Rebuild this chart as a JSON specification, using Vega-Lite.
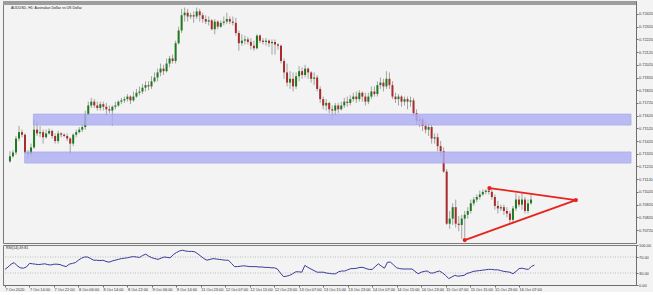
{
"$schema": "https://vega.github.io/schema/vega-lite/v6.json",
"background": "#f3f3f3",
"padding": 0,
"spacing": 2,
"bounds": "flush",
"config": {
  "view": {"stroke": "#7a7a7a", "strokeWidth": 1},
  "font": "Liberation Sans",
  "axis": {"labelFont": "Liberation Sans", "labelFontSize": 3.9, "labelColor": "#333333", "domainColor": "#6e6e6e", "tickColor": "#6e6e6e", "tickSize": 2, "grid": false, "title": null, "labelPadding": 0.5, "labelOverlap": false}
},
"datasets": {
"candles": [
{"i":0,"o":0.7126,"h":0.7134,"l":0.7125,"c":0.7130,"r":39},
{"i":1,"o":0.7130,"h":0.7135,"l":0.7129,"c":0.7133,"r":45},
{"i":2,"o":0.7133,"h":0.7146,"l":0.7131,"c":0.7144,"r":52},
{"i":3,"o":0.7144,"h":0.7154,"l":0.7142,"c":0.7149,"r":56},
{"i":4,"o":0.7149,"h":0.7151,"l":0.7145,"c":0.7147,"r":48},
{"i":5,"o":0.7147,"h":0.7148,"l":0.7132,"c":0.7133,"r":43},
{"i":6,"o":0.7133,"h":0.7135,"l":0.7128,"c":0.7132,"r":42},
{"i":7,"o":0.7132,"h":0.7140,"l":0.7130,"c":0.7137,"r":45},
{"i":8,"o":0.7137,"h":0.7159,"l":0.7136,"c":0.7151,"r":54},
{"i":9,"o":0.7151,"h":0.7158,"l":0.7146,"c":0.7148,"r":53},
{"i":10,"o":0.7148,"h":0.7154,"l":0.7145,"c":0.7149,"r":52},
{"i":11,"o":0.7149,"h":0.7151,"l":0.7140,"c":0.7145,"r":51},
{"i":12,"o":0.7145,"h":0.7151,"l":0.7144,"c":0.7148,"r":52},
{"i":13,"o":0.7148,"h":0.7152,"l":0.7147,"c":0.7150,"r":53},
{"i":14,"o":0.7150,"h":0.7151,"l":0.7144,"c":0.7146,"r":51},
{"i":15,"o":0.7146,"h":0.7148,"l":0.7140,"c":0.7142,"r":50},
{"i":16,"o":0.7142,"h":0.7150,"l":0.7140,"c":0.7148,"r":52},
{"i":17,"o":0.7148,"h":0.7149,"l":0.7145,"c":0.7147,"r":52},
{"i":18,"o":0.7147,"h":0.7148,"l":0.7145,"c":0.7146,"r":51},
{"i":19,"o":0.7146,"h":0.7148,"l":0.7142,"c":0.7144,"r":48},
{"i":20,"o":0.7144,"h":0.7145,"l":0.7131,"c":0.7140,"r":46},
{"i":21,"o":0.7140,"h":0.7148,"l":0.7138,"c":0.7147,"r":52},
{"i":22,"o":0.7147,"h":0.7151,"l":0.7145,"c":0.7149,"r":54},
{"i":23,"o":0.7149,"h":0.7153,"l":0.7148,"c":0.7151,"r":56},
{"i":24,"o":0.7151,"h":0.7155,"l":0.7149,"c":0.7153,"r":62},
{"i":25,"o":0.7153,"h":0.7166,"l":0.7151,"c":0.7163,"r":67},
{"i":26,"o":0.7163,"h":0.7173,"l":0.7162,"c":0.7170,"r":70},
{"i":27,"o":0.7170,"h":0.7176,"l":0.7168,"c":0.7173,"r":70},
{"i":28,"o":0.7173,"h":0.7175,"l":0.7168,"c":0.7170,"r":66},
{"i":29,"o":0.7170,"h":0.7173,"l":0.7166,"c":0.7168,"r":62},
{"i":30,"o":0.7168,"h":0.7173,"l":0.7166,"c":0.7171,"r":62},
{"i":31,"o":0.7171,"h":0.7173,"l":0.7166,"c":0.7169,"r":61},
{"i":32,"o":0.7169,"h":0.7172,"l":0.7162,"c":0.7167,"r":62},
{"i":33,"o":0.7167,"h":0.7170,"l":0.7164,"c":0.7166,"r":59},
{"i":34,"o":0.7166,"h":0.7170,"l":0.7154,"c":0.7169,"r":57},
{"i":35,"o":0.7169,"h":0.7173,"l":0.7167,"c":0.7170,"r":60},
{"i":36,"o":0.7170,"h":0.7174,"l":0.7169,"c":0.7173,"r":62},
{"i":37,"o":0.7173,"h":0.7176,"l":0.7171,"c":0.7174,"r":64},
{"i":38,"o":0.7174,"h":0.7177,"l":0.7172,"c":0.7175,"r":66},
{"i":39,"o":0.7175,"h":0.7179,"l":0.7173,"c":0.7177,"r":67},
{"i":40,"o":0.7177,"h":0.7178,"l":0.7171,"c":0.7174,"r":68},
{"i":41,"o":0.7174,"h":0.7181,"l":0.7173,"c":0.7177,"r":70},
{"i":42,"o":0.7177,"h":0.7183,"l":0.7176,"c":0.7180,"r":71},
{"i":43,"o":0.7180,"h":0.7185,"l":0.7178,"c":0.7181,"r":70},
{"i":44,"o":0.7181,"h":0.7187,"l":0.7179,"c":0.7184,"r":69},
{"i":45,"o":0.7184,"h":0.7189,"l":0.7181,"c":0.7186,"r":74},
{"i":46,"o":0.7186,"h":0.7189,"l":0.7182,"c":0.7185,"r":77},
{"i":47,"o":0.7185,"h":0.7193,"l":0.7183,"c":0.7189,"r":72},
{"i":48,"o":0.7189,"h":0.7196,"l":0.7188,"c":0.7192,"r":68},
{"i":49,"o":0.7192,"h":0.7199,"l":0.7189,"c":0.7196,"r":66},
{"i":50,"o":0.7196,"h":0.7203,"l":0.7193,"c":0.7199,"r":64},
{"i":51,"o":0.7199,"h":0.7202,"l":0.7194,"c":0.7197,"r":67},
{"i":52,"o":0.7197,"h":0.7207,"l":0.7196,"c":0.7203,"r":70},
{"i":53,"o":0.7203,"h":0.7209,"l":0.7200,"c":0.7207,"r":69},
{"i":54,"o":0.7207,"h":0.7210,"l":0.7203,"c":0.7205,"r":68},
{"i":55,"o":0.7205,"h":0.7221,"l":0.7203,"c":0.7219,"r":76},
{"i":56,"o":0.7219,"h":0.7232,"l":0.7218,"c":0.7229,"r":81},
{"i":57,"o":0.7229,"h":0.7246,"l":0.7227,"c":0.7241,"r":85},
{"i":58,"o":0.7241,"h":0.7247,"l":0.7236,"c":0.7243,"r":87},
{"i":59,"o":0.7243,"h":0.7246,"l":0.7236,"c":0.7240,"r":85},
{"i":60,"o":0.7240,"h":0.7243,"l":0.7238,"c":0.7241,"r":84},
{"i":61,"o":0.7241,"h":0.7244,"l":0.7235,"c":0.7240,"r":84},
{"i":62,"o":0.7240,"h":0.7247,"l":0.7238,"c":0.7244,"r":83},
{"i":63,"o":0.7244,"h":0.7246,"l":0.7236,"c":0.7241,"r":78},
{"i":64,"o":0.7241,"h":0.7243,"l":0.7235,"c":0.7238,"r":72},
{"i":65,"o":0.7238,"h":0.7241,"l":0.7234,"c":0.7236,"r":66},
{"i":66,"o":0.7236,"h":0.7240,"l":0.7233,"c":0.7237,"r":62},
{"i":67,"o":0.7237,"h":0.7238,"l":0.7229,"c":0.7230,"r":64},
{"i":68,"o":0.7230,"h":0.7238,"l":0.7226,"c":0.7236,"r":66},
{"i":69,"o":0.7236,"h":0.7237,"l":0.7230,"c":0.7232,"r":65},
{"i":70,"o":0.7232,"h":0.7237,"l":0.7231,"c":0.7235,"r":64},
{"i":71,"o":0.7235,"h":0.7240,"l":0.7233,"c":0.7236,"r":63},
{"i":72,"o":0.7236,"h":0.7243,"l":0.7234,"c":0.7238,"r":62},
{"i":73,"o":0.7238,"h":0.7240,"l":0.7234,"c":0.7236,"r":62},
{"i":74,"o":0.7236,"h":0.7240,"l":0.7233,"c":0.7235,"r":54},
{"i":75,"o":0.7235,"h":0.7239,"l":0.7225,"c":0.7227,"r":46},
{"i":76,"o":0.7227,"h":0.7229,"l":0.7213,"c":0.7219,"r":46},
{"i":77,"o":0.7219,"h":0.7226,"l":0.7217,"c":0.7221,"r":47},
{"i":78,"o":0.7221,"h":0.7225,"l":0.7218,"c":0.7222,"r":48},
{"i":79,"o":0.7222,"h":0.7224,"l":0.7218,"c":0.7220,"r":47},
{"i":80,"o":0.7220,"h":0.7223,"l":0.7214,"c":0.7217,"r":46},
{"i":81,"o":0.7217,"h":0.7221,"l":0.7213,"c":0.7215,"r":46},
{"i":82,"o":0.7215,"h":0.7226,"l":0.7214,"c":0.7225,"r":46},
{"i":83,"o":0.7225,"h":0.7226,"l":0.7219,"c":0.7221,"r":45},
{"i":84,"o":0.7221,"h":0.7223,"l":0.7218,"c":0.7220,"r":45},
{"i":85,"o":0.7220,"h":0.7223,"l":0.7217,"c":0.7221,"r":44},
{"i":86,"o":0.7221,"h":0.7222,"l":0.7216,"c":0.7219,"r":44},
{"i":87,"o":0.7219,"h":0.7222,"l":0.7210,"c":0.7220,"r":43},
{"i":88,"o":0.7220,"h":0.7222,"l":0.7210,"c":0.7218,"r":43},
{"i":89,"o":0.7218,"h":0.7219,"l":0.7214,"c":0.7217,"r":40},
{"i":90,"o":0.7217,"h":0.7218,"l":0.7203,"c":0.7205,"r":30},
{"i":91,"o":0.7205,"h":0.7207,"l":0.7191,"c":0.7196,"r":21},
{"i":92,"o":0.7196,"h":0.7203,"l":0.7185,"c":0.7188,"r":22},
{"i":93,"o":0.7188,"h":0.7197,"l":0.7183,"c":0.7191,"r":24},
{"i":94,"o":0.7191,"h":0.7196,"l":0.7181,"c":0.7185,"r":28},
{"i":95,"o":0.7185,"h":0.7196,"l":0.7183,"c":0.7193,"r":33},
{"i":96,"o":0.7193,"h":0.7201,"l":0.7189,"c":0.7197,"r":33},
{"i":97,"o":0.7197,"h":0.7200,"l":0.7191,"c":0.7194,"r":32},
{"i":98,"o":0.7194,"h":0.7202,"l":0.7192,"c":0.7199,"r":49},
{"i":99,"o":0.7199,"h":0.7200,"l":0.7191,"c":0.7196,"r":44},
{"i":100,"o":0.7196,"h":0.7197,"l":0.7188,"c":0.7191,"r":40},
{"i":101,"o":0.7191,"h":0.7196,"l":0.7186,"c":0.7192,"r":36},
{"i":102,"o":0.7192,"h":0.7194,"l":0.7181,"c":0.7183,"r":32},
{"i":103,"o":0.7183,"h":0.7185,"l":0.7172,"c":0.7175,"r":32},
{"i":104,"o":0.7175,"h":0.7177,"l":0.7167,"c":0.7170,"r":32},
{"i":105,"o":0.7170,"h":0.7175,"l":0.7166,"c":0.7172,"r":30},
{"i":106,"o":0.7172,"h":0.7173,"l":0.7164,"c":0.7167,"r":29},
{"i":107,"o":0.7167,"h":0.7170,"l":0.7159,"c":0.7166,"r":28},
{"i":108,"o":0.7166,"h":0.7172,"l":0.7162,"c":0.7170,"r":28},
{"i":109,"o":0.7170,"h":0.7172,"l":0.7164,"c":0.7167,"r":33},
{"i":110,"o":0.7167,"h":0.7173,"l":0.7166,"c":0.7170,"r":35},
{"i":111,"o":0.7170,"h":0.7176,"l":0.7168,"c":0.7173,"r":35},
{"i":112,"o":0.7173,"h":0.7177,"l":0.7169,"c":0.7172,"r":38},
{"i":113,"o":0.7172,"h":0.7178,"l":0.7170,"c":0.7175,"r":41},
{"i":114,"o":0.7175,"h":0.7180,"l":0.7173,"c":0.7177,"r":41},
{"i":115,"o":0.7177,"h":0.7181,"l":0.7172,"c":0.7175,"r":42},
{"i":116,"o":0.7175,"h":0.7182,"l":0.7173,"c":0.7180,"r":44},
{"i":117,"o":0.7180,"h":0.7181,"l":0.7173,"c":0.7177,"r":44},
{"i":118,"o":0.7177,"h":0.7180,"l":0.7170,"c":0.7173,"r":41},
{"i":119,"o":0.7173,"h":0.7180,"l":0.7171,"c":0.7177,"r":39},
{"i":120,"o":0.7177,"h":0.7185,"l":0.7175,"c":0.7181,"r":39},
{"i":121,"o":0.7181,"h":0.7185,"l":0.7177,"c":0.7179,"r":46},
{"i":122,"o":0.7179,"h":0.7189,"l":0.7177,"c":0.7186,"r":53},
{"i":123,"o":0.7186,"h":0.7192,"l":0.7183,"c":0.7188,"r":47},
{"i":124,"o":0.7188,"h":0.7191,"l":0.7181,"c":0.7185,"r":42},
{"i":125,"o":0.7185,"h":0.7197,"l":0.7183,"c":0.7191,"r":57},
{"i":126,"o":0.7191,"h":0.7196,"l":0.7183,"c":0.7186,"r":57},
{"i":127,"o":0.7186,"h":0.7189,"l":0.7175,"c":0.7177,"r":50},
{"i":128,"o":0.7177,"h":0.7180,"l":0.7172,"c":0.7175,"r":43},
{"i":129,"o":0.7175,"h":0.7179,"l":0.7170,"c":0.7177,"r":41},
{"i":130,"o":0.7177,"h":0.7178,"l":0.7169,"c":0.7173,"r":40},
{"i":131,"o":0.7173,"h":0.7177,"l":0.7170,"c":0.7175,"r":40},
{"i":132,"o":0.7175,"h":0.7177,"l":0.7167,"c":0.7173,"r":40},
{"i":133,"o":0.7173,"h":0.7177,"l":0.7169,"c":0.7174,"r":40},
{"i":134,"o":0.7174,"h":0.7176,"l":0.7162,"c":0.7164,"r":34},
{"i":135,"o":0.7164,"h":0.7167,"l":0.7155,"c":0.7158,"r":28},
{"i":136,"o":0.7158,"h":0.7162,"l":0.7153,"c":0.7159,"r":32},
{"i":137,"o":0.7159,"h":0.7161,"l":0.7150,"c":0.7154,"r":34},
{"i":138,"o":0.7154,"h":0.7158,"l":0.7148,"c":0.7151,"r":35},
{"i":139,"o":0.7151,"h":0.7156,"l":0.7146,"c":0.7153,"r":30},
{"i":140,"o":0.7153,"h":0.7155,"l":0.7140,"c":0.7144,"r":30},
{"i":141,"o":0.7144,"h":0.7148,"l":0.7140,"c":0.7145,"r":33},
{"i":142,"o":0.7145,"h":0.7148,"l":0.7134,"c":0.7138,"r":35},
{"i":143,"o":0.7138,"h":0.7142,"l":0.7130,"c":0.7134,"r":30},
{"i":144,"o":0.7134,"h":0.7137,"l":0.7117,"c":0.7118,"r":24},
{"i":145,"o":0.7118,"h":0.7120,"l":0.7076,"c":0.7077,"r":16},
{"i":146,"o":0.7077,"h":0.7087,"l":0.7073,"c":0.7081,"r":20},
{"i":147,"o":0.7081,"h":0.7093,"l":0.7076,"c":0.7090,"r":24},
{"i":148,"o":0.7090,"h":0.7096,"l":0.7074,"c":0.7077,"r":22},
{"i":149,"o":0.7077,"h":0.7083,"l":0.7071,"c":0.7076,"r":23},
{"i":150,"o":0.7076,"h":0.7084,"l":0.7065,"c":0.7081,"r":24},
{"i":151,"o":0.7081,"h":0.7087,"l":0.7066,"c":0.7084,"r":29},
{"i":152,"o":0.7084,"h":0.7090,"l":0.7081,"c":0.7087,"r":31},
{"i":153,"o":0.7087,"h":0.7096,"l":0.7085,"c":0.7093,"r":34},
{"i":154,"o":0.7093,"h":0.7098,"l":0.7091,"c":0.7096,"r":35},
{"i":155,"o":0.7096,"h":0.7100,"l":0.7094,"c":0.7098,"r":36},
{"i":156,"o":0.7098,"h":0.7103,"l":0.7096,"c":0.7100,"r":37},
{"i":157,"o":0.7100,"h":0.7104,"l":0.7099,"c":0.7102,"r":38},
{"i":158,"o":0.7102,"h":0.7104,"l":0.7100,"c":0.7103,"r":39},
{"i":159,"o":0.7103,"h":0.7105,"l":0.7100,"c":0.7102,"r":39},
{"i":160,"o":0.7102,"h":0.7104,"l":0.7096,"c":0.7098,"r":38},
{"i":161,"o":0.7098,"h":0.7100,"l":0.7088,"c":0.7091,"r":38},
{"i":162,"o":0.7091,"h":0.7095,"l":0.7085,"c":0.7089,"r":36},
{"i":163,"o":0.7089,"h":0.7092,"l":0.7087,"c":0.7090,"r":34},
{"i":164,"o":0.7090,"h":0.7092,"l":0.7084,"c":0.7087,"r":33},
{"i":165,"o":0.7087,"h":0.7090,"l":0.7082,"c":0.7085,"r":32},
{"i":166,"o":0.7085,"h":0.7087,"l":0.7077,"c":0.7080,"r":28},
{"i":167,"o":0.7080,"h":0.7091,"l":0.7077,"c":0.7089,"r":34},
{"i":168,"o":0.7089,"h":0.7101,"l":0.7087,"c":0.7096,"r":41},
{"i":169,"o":0.7096,"h":0.7099,"l":0.7090,"c":0.7092,"r":42},
{"i":170,"o":0.7092,"h":0.7101,"l":0.7088,"c":0.7096,"r":40},
{"i":171,"o":0.7096,"h":0.7098,"l":0.7085,"c":0.7087,"r":39},
{"i":172,"o":0.7087,"h":0.7096,"l":0.7085,"c":0.7093,"r":46},
{"i":173,"o":0.7093,"h":0.7100,"l":0.7092,"c":0.7096,"r":50}
],
"zones": [
{"x0": 7.8, "x1": 206.2, "lo": 0.71546, "hi": 0.71632},
{"x0": 4.9, "x1": 206.2, "lo": 0.71247, "hi": 0.71334}
],
"tri": [
{"k": 0, "i": 159.2, "p": 0.7105},
{"k": 1, "i": 187.9, "p": 0.70956},
{"k": 2, "i": 151, "p": 0.70641}
],
"levels": [{"v": 30}, {"v": 70}],
"labels": [
{"t": "AUDUSD, H1:  Australian Dollar vs US Dollar", "i": 0, "p": 0.72491},
{"t": "RSI(14) 49.81", "i": 0, "r": 100}
],
"topbar": [{"p": 0.72506}]
},
"vconcat": [
{
  "width": 633,
  "height": 242,
  "layer": [
    {
      "data": {"name": "candles"},
      "mark": {"type": "rule", "color": "#a3a3a3", "strokeWidth": 1},
      "encoding": {
        "x": {"field": "i", "type": "quantitative", "scale": {"domain": [-0.65, 206.2], "nice": false, "zero": false}, "axis": null},
        "y": {"field": "l", "type": "quantitative", "scale": {"domain": [0.70618, 0.72522], "nice": false, "zero": false},
              "axis": {"orient": "right", "values": [0.7072,0.7082,0.7092,0.7102,0.7112,0.7122,0.7132,0.7142,0.7152,0.7162,0.7172,0.7182,0.7192,0.7202,0.7212,0.7222,0.7232,0.7242], "tickCount": 40, "format": ".5f", "labelOverlap": false, "labelBound": false}},
        "y2": {"field": "h"}
      }
    },
    {
      "data": {"name": "candles"},
      "mark": {"type": "bar", "width": 2},
      "encoding": {
        "x": {"field": "i", "type": "quantitative"},
        "y": {"field": "o", "type": "quantitative"},
        "y2": {"field": "c"},
        "color": {"condition": {"test": "datum.c >= datum.o", "value": "#1d7a1d"}, "value": "#a82c2c"}
      }
    },
    {
      "data": {"name": "zones"},
      "mark": {"type": "rect", "fill": "#afaff5", "opacity": 0.82, "stroke": "#9c9ce8", "strokeWidth": 0.8},
      "encoding": {
        "x": {"field": "x0", "type": "quantitative"},
        "x2": {"field": "x1"},
        "y": {"field": "lo", "type": "quantitative"},
        "y2": {"field": "hi"}
      }
    },
    {
      "data": {"name": "tri"},
      "mark": {"type": "line", "color": "#e8231e", "strokeWidth": 1.8},
      "encoding": {
        "x": {"field": "i", "type": "quantitative"},
        "y": {"field": "p", "type": "quantitative"},
        "order": {"field": "k"}
      }
    },
    {
      "data": {"name": "tri"},
      "mark": {"type": "point", "filled": true, "color": "#e8231e", "size": 18, "opacity": 1},
      "encoding": {
        "x": {"field": "i", "type": "quantitative"},
        "y": {"field": "p", "type": "quantitative"}
      }
    },
    {
      "data": {"name": "labels"},
      "transform": [{"filter": "datum.p != null"}],
      "mark": {"type": "text", "align": "left", "baseline": "top", "fontSize": 3.6, "color": "#222222", "dx": 1, "dy": 1.5},
      "encoding": {
        "x": {"field": "i", "type": "quantitative"},
        "y": {"field": "p", "type": "quantitative"},
        "text": {"field": "t"}
      }
    },
    {
      "data": {"name": "topbar"},
      "mark": {"type": "rule", "color": "#9d9d9d", "strokeWidth": 4},
      "encoding": {
        "y": {"field": "p", "type": "quantitative"}
      }
    }
  ]
},
{
  "width": 633,
  "height": 40,
  "layer": [
    {
      "data": {"name": "levels"},
      "mark": {"type": "rule", "color": "#9a9a9a", "strokeWidth": 0.6, "strokeDash": [1, 1.5]},
      "encoding": {
        "y": {"field": "v", "type": "quantitative", "scale": {"domain": [0, 100], "nice": false}}
      }
    },
    {
      "data": {"name": "candles"},
      "mark": {"type": "line", "color": "#3b3b9e", "strokeWidth": 1},
      "encoding": {
        "x": {"field": "i", "type": "quantitative", "scale": {"domain": [-0.65, 206.2], "nice": false, "zero": false},
              "axis": {"orient": "bottom", "values": [0,8,16,24,32,40,48,56,64,72,80,88,96,104,112,120,128,136,144,152,160,168], "tickCount": 40,
                       "labelExpr": "['7 Oct 2020','7 Oct 14:00','7 Oct 22:00','8 Oct 06:00','8 Oct 14:00','8 Oct 22:00','9 Oct 06:00','9 Oct 14:00','11 Oct 23:00','12 Oct 07:00','12 Oct 15:00','12 Oct 23:00','13 Oct 07:00','13 Oct 15:00','13 Oct 23:00','14 Oct 07:00','14 Oct 15:00','14 Oct 23:00','15 Oct 07:00','15 Oct 15:00','15 Oct 23:00','16 Oct 07:00'][datum.value/8]",
                       "labelAlign": "left", "labelDx": 1, "labelFlush": false, "labelOverlap": false, "labelBound": false, "tickSize": 2}},
        "y": {"field": "r", "type": "quantitative", "scale": {"domain": [0, 100], "nice": false},
              "axis": {"orient": "right", "values": [0, 30, 70, 100], "tickCount": 10, "format": ".2f", "labelOverlap": false}}
      }
    },
    {
      "data": {"name": "labels"},
      "transform": [{"filter": "datum.r != null"}],
      "mark": {"type": "text", "align": "left", "baseline": "top", "fontSize": 3.6, "color": "#222222", "dx": 1, "dy": 1},
      "encoding": {
        "x": {"field": "i", "type": "quantitative"},
        "y": {"field": "r", "type": "quantitative"},
        "text": {"field": "t"}
      }
    }
  ]
}
]
}
